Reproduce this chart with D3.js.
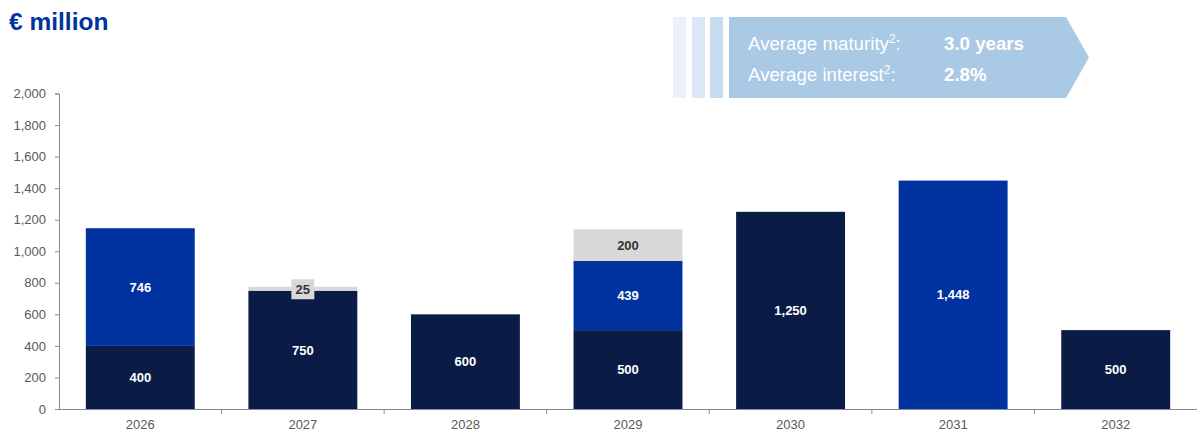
<!DOCTYPE html>
<html><head><meta charset="utf-8">
<script src="https://cdn.jsdelivr.net/npm/d3@7/dist/d3.min.js"></script>
<style>body{margin:0;background:#fff}svg{display:block;font-family:"Liberation Sans",Arial,sans-serif}</style>
</head><body><svg id="c" width="1197" height="445"></svg>
<script>
const years = ["2026","2027","2028","2029","2030","2031","2032"];
const navyValues = [400, 750, 600, 500, 1250, 0, 500];
const blueValues = [746, 0, 0, 439, 0, 1448, 0];
const greyValues = [0, 25, 0, 200, 0, 0, 0];
const yTicks = [0,200,400,600,800,1000,1200,1400,1600,1800,2000];
const seriesKeys = ["navy","blue","grey"];
const colors = {navy:"#0a1c46", blue:"#0033a0", grey:"#d9d8d6"};
const labelColors = {navy:"#ffffff", blue:"#ffffff", grey:"#333333"};

const svg = d3.select("#c");
const x = d3.scaleBand().domain(years).range([59, 1197]).paddingInner(0.33).paddingOuter(0.165);
const y = d3.scaleLinear().domain([0, 2000]).range([409, 93.5]);

const table = years.map((yr,i)=>({year:yr, navy:navyValues[i], blue:blueValues[i], grey:greyValues[i]}));
const stacked = d3.stack().keys(seriesKeys)(table);

// title
svg.append("text").attr("x",9).attr("y",30).attr("fill","#0033a0")
  .attr("font-size",24.5).attr("font-weight","bold").text("€ million");

// banner
const bg = svg.append("g");
const stripes = [[673,686,"#eaf1f9"],[692,705,"#dbe7f4"],[710,723,"#c6dbef"]];
stripes.forEach(s=>bg.append("rect").attr("x",s[0]).attr("y",17).attr("width",s[1]-s[0]).attr("height",81).attr("fill",s[2]));
bg.append("path").attr("d","M729,17 L1066,17 L1089,57.5 L1066,98 L729,98 Z").attr("fill","#aac9e4");
const bt = bg.append("g").attr("fill","#ffffff").attr("font-size",18.7);
const t1 = bt.append("text").attr("x",748).attr("y",50);
t1.append("tspan").text("Average maturity");
t1.append("tspan").attr("font-size",12).attr("dy",-7).text("2");
t1.append("tspan").attr("dy",7).text(":");
bt.append("text").attr("x",944).attr("y",50).attr("font-weight","bold").text("3.0 years");
const t2 = bt.append("text").attr("x",748).attr("y",81);
t2.append("tspan").text("Average interest");
t2.append("tspan").attr("font-size",12).attr("dy",-7).text("2");
t2.append("tspan").attr("dy",7).text(":");
bt.append("text").attr("x",944).attr("y",81).attr("font-weight","bold").text("2.8%");

// bars
const g = svg.append("g");
stacked.forEach(layer=>{
  g.selectAll(null).data(layer.filter(d=>d[1]-d[0]>0)).join("rect")
    .attr("x",d=>x(d.data.year)).attr("width",x.bandwidth())
    .attr("y",d=>y(d[1])).attr("height",d=>y(d[0])-y(d[1]))
    .attr("fill",colors[layer.key]);
});

// labels
stacked.forEach(layer=>{
  layer.filter(d=>d[1]-d[0]>0).forEach(d=>{
    const v = d[1]-d[0];
    const cx = x(d.data.year)+x.bandwidth()/2;
    let cy = (y(d[0])+y(d[1]))/2;
    if (v < 60) {
      cy = y(d[1]) + 2.5;
      g.append("rect").attr("x",cx-11.5).attr("y",cy-10).attr("width",23).attr("height",20).attr("fill",colors.grey);
    }
    g.append("text").attr("x",cx).attr("y",cy).attr("dy","0.36em").attr("text-anchor","middle")
      .attr("font-size",13).attr("font-weight","bold").attr("fill",labelColors[layer.key])
      .text(d3.format(",")(v));
  });
});

// y axis
const axisColor = "#868aa0";
const ya = svg.append("g").attr("transform","translate(59,0)")
  .call(d3.axisLeft(y).tickValues(yTicks).tickFormat(d3.format(",")).tickSize(4).tickPadding(9));
ya.select(".domain").attr("stroke",axisColor);
ya.selectAll(".tick line").attr("stroke",axisColor);
ya.selectAll(".tick text").attr("fill","#595959").attr("font-size",13).attr("font-family","Liberation Sans, Arial, sans-serif");

// x axis
const xa = svg.append("g").attr("transform","translate(0,409)")
  .call(d3.axisBottom(x).tickSize(0).tickPadding(11));
xa.select(".domain").attr("stroke",axisColor).attr("d","M59,0.5H1197");
xa.selectAll(".tick text").attr("fill","#595959").attr("font-size",13).attr("font-family","Liberation Sans, Arial, sans-serif");
const step = x.step();
const bounds = d3.range(1, years.length).map(i=>59 + i*step);
xa.selectAll(".sep").data(bounds).join("line").attr("class","sep")
  .attr("x1",d=>d).attr("x2",d=>d).attr("y1",0).attr("y2",5).attr("stroke",axisColor);
</script></body></html>
